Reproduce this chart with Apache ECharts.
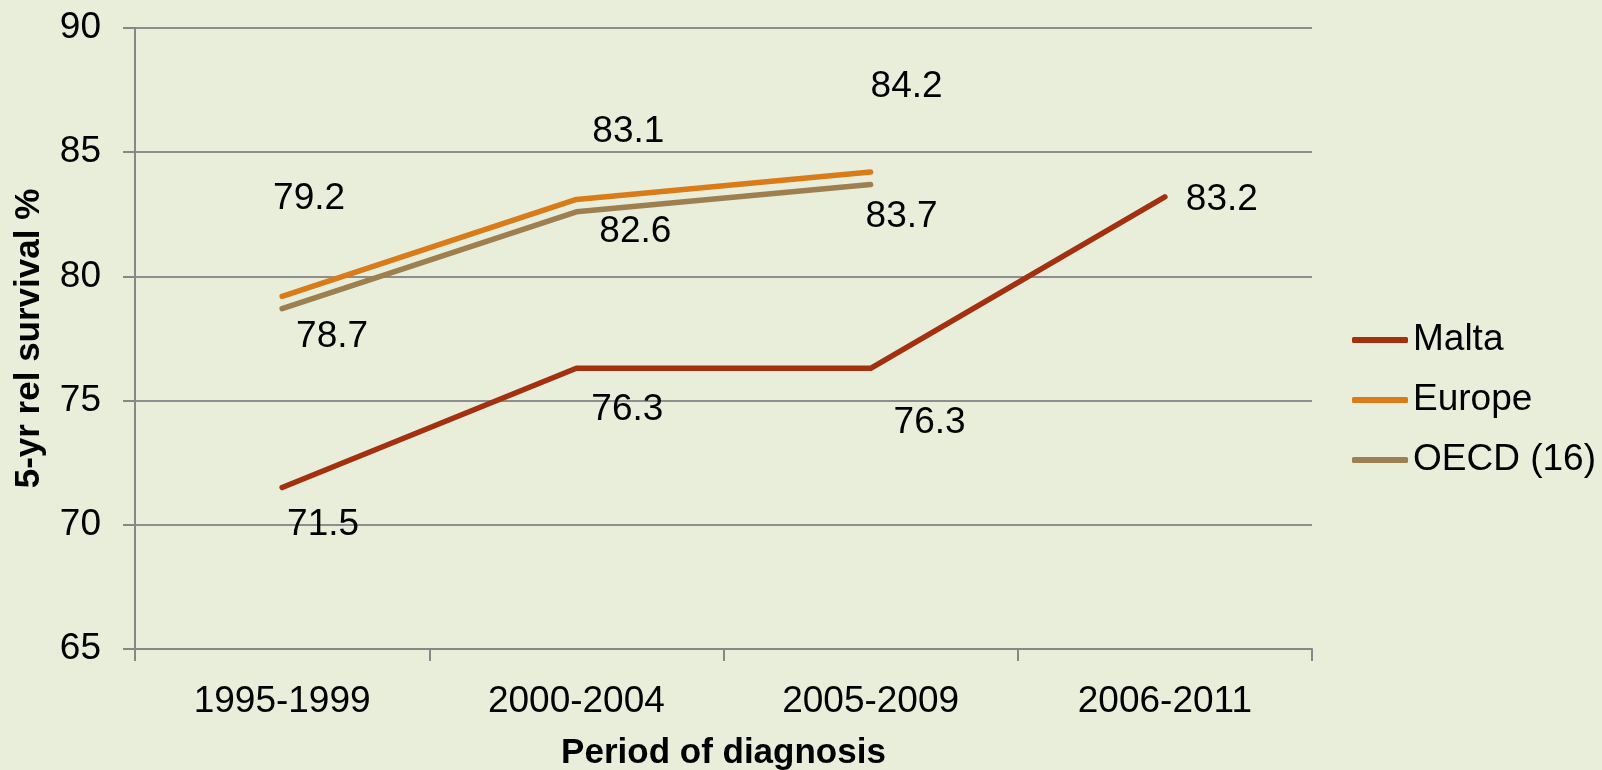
<!DOCTYPE html>
<html>
<head>
<meta charset="utf-8">
<script src="https://cdn.jsdelivr.net/npm/echarts@6/dist/echarts.min.js"></script>
<style>
  html, body { margin: 0; padding: 0; background: #E9EEDB; }
  #echart { width: 1602px; height: 770px; }
</style>
</head>
<body>
<div id="echart"></div>
<script>
var periods = ['1995-1999', '2000-2004', '2005-2009', '2006-2011'];
var malta = [71.5, 76.3, 76.3, 83.2];
var europe = [79.2, 83.1, 84.2, null];
var oecd = [78.7, 82.6, 83.7, null];
var yTicks = [65, 70, 75, 80, 85, 90];

// where each value label sits relative to its point (moved by hand in the original)
var maltaLabelOffsets = [[41, 37], [51, 41], [59, 54], [57, 3]];
var europeLabelOffsets = [[27, -97], [52, -68], [36, -85]];
var oecdLabelOffsets = [[50, 28], [59, 20], [31, 32]];

var font = 'Liberation Sans';

function withLabels(values, offsets) {
	return values.map(function(v, i) {
		if (v === null) return null;
		return { value: v, label: { offset: offsets[i] } };
	});
}

function lineSeries(name, color, values, offsets) {
	return {
		name: name,
		type: 'line',
		data: withLabels(values, offsets),
		symbol: 'circle',
		symbolSize: 1,
		itemStyle: { color: color },
		lineStyle: { color: color, width: 5.5, cap: 'round', join: 'round' },
		label: {
			show: true,
			position: 'inside',
			align: 'center',
			verticalAlign: 'middle',
			color: '#000',
			fontFamily: font,
			fontSize: 37,
			formatter: function(p) { return p.value.toFixed(1); }
		},
		emphasis: { disabled: true }
	};
}

var myChart = echarts.init(document.getElementById('echart'));
myChart.setOption({
	animation: false,
	backgroundColor: '#E9EEDB',
	textStyle: { fontFamily: font },
	grid: { left: 135, right: 290, top: 28, bottom: 121, containLabel: false, outerBoundsMode: 'none' },
	legend: {
		orient: 'vertical',
		left: 1352,
		top: 320,
		padding: 0,
		icon: 'roundRect',
		itemWidth: 56,
		itemHeight: 6,
		itemGap: 20,
		textStyle: { color: '#000', fontSize: 37, lineHeight: 40, fontFamily: font },
		data: ['Malta', 'Europe', 'OECD (16)']
	},
	xAxis: {
		type: 'category',
		boundaryGap: true,
		data: periods,
		name: 'Period of diagnosis',
		nameLocation: 'middle',
		nameGap: 87,
		nameTextStyle: { color: '#000', fontSize: 35, fontWeight: 'bold', fontFamily: font },
		axisLine: { lineStyle: { color: '#878787', width: 2 } },
		axisTick: { show: true, length: 12, lineStyle: { color: '#878787', width: 2 } },
		axisLabel: { color: '#000', fontSize: 37, margin: 34, fontFamily: font }
	},
	yAxis: {
		type: 'value',
		min: yTicks[0],
		max: yTicks[yTicks.length - 1],
		interval: 5,
		name: '5-yr rel survival %',
		nameLocation: 'middle',
		nameGap: 88,
		nameTextStyle: { color: '#000', fontSize: 35, fontWeight: 'bold', fontFamily: font },
		axisLine: { show: true, lineStyle: { color: '#878787', width: 2 } },
		axisTick: { show: true, length: 12, lineStyle: { color: '#878787', width: 2 } },
		axisLabel: { color: '#000', fontSize: 37, margin: 34, fontFamily: font },
		splitLine: { show: true, lineStyle: { color: '#8E8E8E', width: 2 } }
	},
	series: [
		lineSeries('Malta', '#A3300F', malta, maltaLabelOffsets),
		lineSeries('Europe', '#DA7B19', europe, europeLabelOffsets),
		lineSeries('OECD (16)', '#9D7F50', oecd, oecdLabelOffsets)
	]
});
</script>
</body>
</html>
